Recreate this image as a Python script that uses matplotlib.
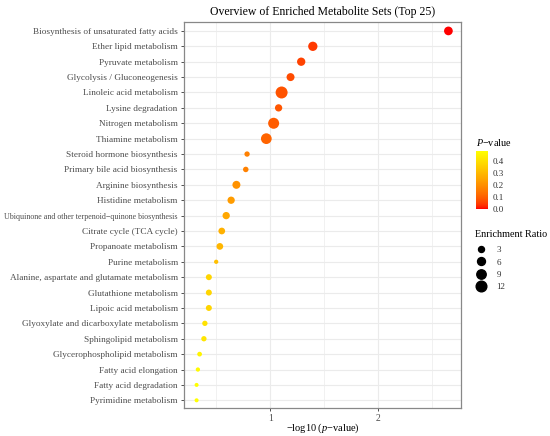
import numpy as np
import matplotlib
matplotlib.use("Agg")
import matplotlib.pyplot as plt
from matplotlib.colors import ListedColormap, Normalize
from matplotlib.lines import Line2D
from matplotlib.ticker import MultipleLocator, FixedLocator

# ---------------- data ----------------
pathways = [
    "Biosynthesis of unsaturated fatty acids",
    "Ether lipid metabolism",
    "Pyruvate metabolism",
    "Glycolysis / Gluconeogenesis",
    "Linoleic acid metabolism",
    "Lysine degradation",
    "Nitrogen metabolism",
    "Thiamine metabolism",
    "Steroid hormone biosynthesis",
    "Primary bile acid biosynthesis",
    "Arginine biosynthesis",
    "Histidine metabolism",
    "Ubiquinone and other terpenoid\u2212quinone biosynthesis",
    "Citrate cycle (TCA cycle)",
    "Propanoate metabolism",
    "Purine metabolism",
    "Alanine, aspartate and glutamate metabolism",
    "Glutathione metabolism",
    "Lipoic acid metabolism",
    "Glyoxylate and dicarboxylate metabolism",
    "Sphingolipid metabolism",
    "Glycerophospholipid metabolism",
    "Fatty acid elongation",
    "Fatty acid degradation",
    "Pyrimidine metabolism",
]
neg_log10_p = [2.655, 1.395, 1.287, 1.188, 1.105, 1.077, 1.031, 0.963,
               0.784, 0.772, 0.685, 0.636, 0.590, 0.549, 0.531, 0.497,
               0.429, 0.429, 0.429, 0.392, 0.383, 0.343, 0.327, 0.315, 0.315]
enrichment_ratio = [7.5, 8.7, 6.7, 6.1, 15.6, 4.9, 12.9, 12.1,
                    2.2, 2.4, 6.1, 4.9, 4.9, 4.0, 4.0, 1.2,
                    3.0, 3.0, 3.0, 2.2, 2.2, 1.6, 1.2, 1.0, 1.0]
size_breaks = [3, 6, 9, 12]
pval_ticks = [0.0, 0.1, 0.2, 0.3, 0.4]
x_ticks = [1, 2]

DPI = 100
plt.rcParams['font.family'] = ['Liberation Serif', 'DejaVu Serif']
plt.rcParams['mathtext.fontset'] = 'custom'
plt.rcParams['mathtext.rm'] = 'Liberation Serif'
plt.rcParams['mathtext.it'] = 'Liberation Serif:italic'

# ---------------- colour map: red -> yellow in CIELAB (ggplot style) -------------
def srgb_to_lab(rgb):
    rgb = np.asarray(rgb, float)
    lin = np.where(rgb <= 0.04045, rgb / 12.92, ((rgb + 0.055) / 1.055) ** 2.4)
    M = np.array([[0.4124564, 0.3575761, 0.1804375],
                  [0.2126729, 0.7151522, 0.0721750],
                  [0.0193339, 0.1191920, 0.9503041]])
    xyz = M @ lin
    wp = np.array([0.95047, 1.0, 1.08883])
    t = xyz / wp
    f = np.where(t > (6 / 29) ** 3, np.cbrt(t), t / (3 * (6 / 29) ** 2) + 4 / 29)
    return np.array([116 * f[1] - 16, 500 * (f[0] - f[1]), 200 * (f[1] - f[2])])

def lab_to_srgb(lab):
    L, a, b = lab
    fy = (L + 16) / 116
    fx = fy + a / 500
    fz = fy - b / 200
    def finv(f):
        return np.where(f > 6 / 29, f ** 3, 3 * (6 / 29) ** 2 * (f - 4 / 29))
    wp = np.array([0.95047, 1.0, 1.08883])
    xyz = np.array([finv(fx), finv(fy), finv(fz)]) * wp
    Minv = np.array([[3.2404542, -1.5371385, -0.4985314],
                     [-0.9692660, 1.8760108, 0.0415560],
                     [0.0556434, -0.2040259, 1.0572252]])
    lin = np.clip(Minv @ xyz, 0, 1)
    srgb = np.where(lin <= 0.0031308, 12.92 * lin, 1.055 * lin ** (1 / 2.4) - 0.055)
    return np.clip(srgb, 0, 1)

lab_lo = srgb_to_lab([1, 0, 0])
lab_hi = srgb_to_lab([1, 1, 0])
cols = [lab_to_srgb(lab_lo + (lab_hi - lab_lo) * t) for t in np.linspace(0, 1, 256)]
cmap = ListedColormap(cols)

pvals = [10 ** (-v) for v in neg_log10_p]
norm = Normalize(vmin=min(pvals), vmax=max(pvals))

def diam_px(r):
    return 1.32 + 2.7 * np.sqrt(r)

def area_pt2(r):
    return (diam_px(np.asarray(r, float)) * 72 / DPI) ** 2

# ---------------- figure ----------------
fig = plt.figure(figsize=(5.5, 4.36), dpi=DPI)
ax = fig.add_axes([184 / 550, 1 - 408 / 436, (461 - 184) / 550, (408 - 22) / 436])

ypos = np.arange(1, len(pathways) + 1)
ax.set_axisbelow(True)
ax.scatter(neg_log10_p, ypos, s=area_pt2(enrichment_ratio),
           c=pvals, cmap=cmap, norm=norm, linewidths=0, zorder=3)

ax.set_ylim(len(pathways) + 0.5, 0.42)
ax.set_xlim(0.198, 2.772)
ax.set_yticks(ypos)
ax.set_yticklabels(pathways)
for lbl in ax.get_yticklabels():
    lbl.set_fontsize(6.7)
    lbl.set_color('#4D4D4D')
ax.get_yticklabels()[12].set_fontsize(5.75)

ax.xaxis.set_major_locator(FixedLocator(x_ticks))
ax.xaxis.set_minor_locator(MultipleLocator(0.5))
ax.tick_params(axis='x', which='minor', length=0)
ax.tick_params(axis='both', which='major', length=2.5, width=0.6,
               color='#333333', pad=2)
ax.tick_params(axis='x', labelsize=7, labelcolor='#4D4D4D')

ax.grid(True, which='major', color='#EBEBEB', linewidth=0.8)
ax.grid(True, which='minor', axis='x', color='#EBEBEB', linewidth=0.5)
for sp in ax.spines.values():
    sp.set_color('#888888')
    sp.set_linewidth(0.9)

ax.set_xlabel(r'$\mathrm{-log10\ (}p\mathrm{-value)}$', fontsize=7.5, labelpad=-1)
ax.set_title('Overview of Enriched Metabolite Sets (Top 25)', fontsize=8.5, pad=5)

# ---------------- colourbar legend ----------------
cax = fig.add_axes([476 / 550, 1 - 209 / 436, 12 / 550, 58 / 436])
sm = matplotlib.cm.ScalarMappable(norm=norm, cmap=cmap)
cb = fig.colorbar(sm, cax=cax)
cb.outline.set_visible(False)
cb.set_ticks(pval_ticks)
cb.set_ticklabels([f"{t:.1f}" for t in pval_ticks])
cax.tick_params(labelsize=6.5, length=0, pad=3, labelcolor='#333333')
fig.text(476 / 550, 1 - 143 / 436, r'$P\mathrm{-value}$',
         fontsize=7.3, va='center', ha='left')

# ---------------- size legend ----------------
handles = [Line2D([], [], marker='o', linestyle='none', color='black',
                  markersize=diam_px(b) * 72 / DPI) for b in size_breaks]
leg = fig.legend(handles, [str(b) for b in size_breaks],
                 title='Enrichment Ratio', loc='upper left',
                 bbox_to_anchor=(475 / 550, 1 - 230 / 436),
                 frameon=False, fontsize=6.5, title_fontsize=7.3,
                 handlelength=1.4, handletextpad=1.0, labelspacing=0.45,
                 borderaxespad=0, borderpad=0)
leg._legend_box.align = 'left'
leg._legend_box.sep = 5
for t in leg.get_texts():
    t.set_color('#333333')

fig.savefig('out.png', dpi=DPI)
